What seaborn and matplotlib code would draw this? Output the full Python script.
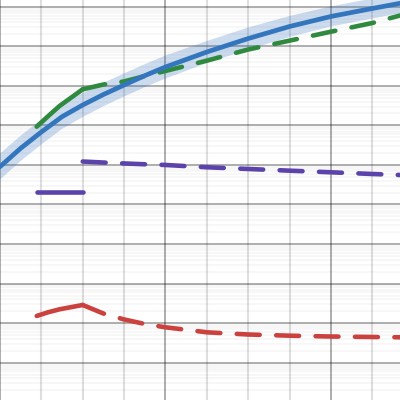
import pandas as pd
import matplotlib
matplotlib.use('Agg')
import matplotlib.pyplot as plt
import matplotlib.ticker as mticker
import seaborn as sns

# fitted trend with confidence band
x_fit = [0.0, 0.125, 0.25, 0.375, 0.5, 0.625, 0.75, 0.875, 1.0, 1.25, 1.5, 1.75, 2.0, 2.25, 2.417]
fit_mid = [9.04e4, 2.64e5, 6.81e5, 1.66e6, 3.28e6, 6.04e6, 1.05e7, 1.81e7, 3.00e7,
           7.18e7, 1.57e8, 3.17e8, 5.68e8, 9.04e8, 1.22e9]
fit_lo = [4.24e4, 1.26e5, 3.29e5, 8.17e5, 1.63e6, 3.05e6, 5.38e6, 9.25e6, 1.53e7,
          3.78e7, 8.30e7, 1.72e8, 3.17e8, 5.05e8, 6.82e8]
fit_hi = [1.93e5, 5.52e5, 1.41e6, 3.37e6, 6.59e6, 1.19e7, 2.06e7, 3.53e7, 5.86e7,
          1.36e8, 2.99e8, 5.83e8, 1.02e9, 1.62e9, 2.19e9]

# observed segment (solid)
x_obs = [0.222, 0.29, 0.36, 0.5]
green_obs = [9.27e5, 1.70e6, 3.10e6, 8.18e6]
purple_obs = [2.11e4, 2.11e4, 2.11e4, 2.11e4]
red_obs = [15.2, 18.8, 22.4, 28.8]

# projected segment (dashed)
x_proj = [0.5, 0.625, 0.75, 0.875, 1.0, 1.25, 1.5, 1.75, 2.0, 2.25, 2.417]
green_proj = [8.18e6, 1.08e7, 1.29e7, 1.77e7, 2.38e7, 4.33e7, 8.30e7, 1.39e8, 2.34e8, 3.88e8, 6.01e8]
purple_proj = [1.22e5, 1.15e5, 1.09e5, 1.04e5, 9.98e4, 8.73e4, 7.91e4, 7.16e4, 6.52e4, 5.90e4, 5.57e4]
red_proj = [28.8, 17.5, 12.4, 9.53, 7.85, 5.87, 5.16, 4.82, 4.59, 4.47, 4.39]

rows = []
for name, obs, proj in [('green', green_obs, green_proj),
                        ('purple', purple_obs, purple_proj),
                        ('red', red_obs, red_proj)]:
    rows += [dict(x=x, y=y, series=name, phase='observed') for x, y in zip(x_obs, obs)]
    rows += [dict(x=x, y=y, series=name, phase='projected') for x, y in zip(x_proj, proj)]
df = pd.DataFrame(rows)

palette = {'green': '#2f8a3f', 'purple': '#5c43ab', 'red': '#cb413e'}
blue = '#3476be'

sns.set_style('white')
fig = plt.figure(figsize=(4, 4), dpi=100)
ax = fig.add_axes([0, 0, 1, 1])

ax.fill_between(x_fit, fit_lo, fit_hi, color=blue, alpha=0.25, lw=0, zorder=2)
sns.lineplot(x=x_fit, y=fit_mid, color=blue, lw=3.4, ax=ax, zorder=4)
sns.lineplot(data=df, x='x', y='y', hue='series', style='phase', palette=palette,
             dashes={'observed': '', 'projected': (5, 3.6)}, lw=3.3,
             legend=False, ax=ax, zorder=3, dash_capstyle='round',
             solid_capstyle='round')

ax.set_yscale('log')
ax.set_xlim(0, 2.417)
ax.set_ylim(0.114, 1.48e9)
ax.xaxis.set_major_locator(mticker.MultipleLocator(1))
ax.xaxis.set_minor_locator(mticker.MultipleLocator(0.25))
ax.yaxis.set_major_locator(mticker.LogLocator(base=10, numticks=30))
ax.yaxis.set_minor_locator(mticker.LogLocator(base=10, subs=range(2, 10), numticks=30))

# translucent grid so crossings don't break the vertical lines
ax.set_axisbelow(True)
ax.grid(which='minor', axis='x', color='black', alpha=0.13, lw=1.5)
ax.grid(which='minor', axis='y', color='black', alpha=0.035, lw=1.2)
ax.grid(which='major', color='black', alpha=0.32, lw=1.4)
ax.tick_params(which='both', length=0, labelbottom=False, labelleft=False)
for s in ax.spines.values():
    s.set_visible(False)
ax.set_xlabel('')
ax.set_ylabel('')

fig.savefig('out.png', dpi=100)
